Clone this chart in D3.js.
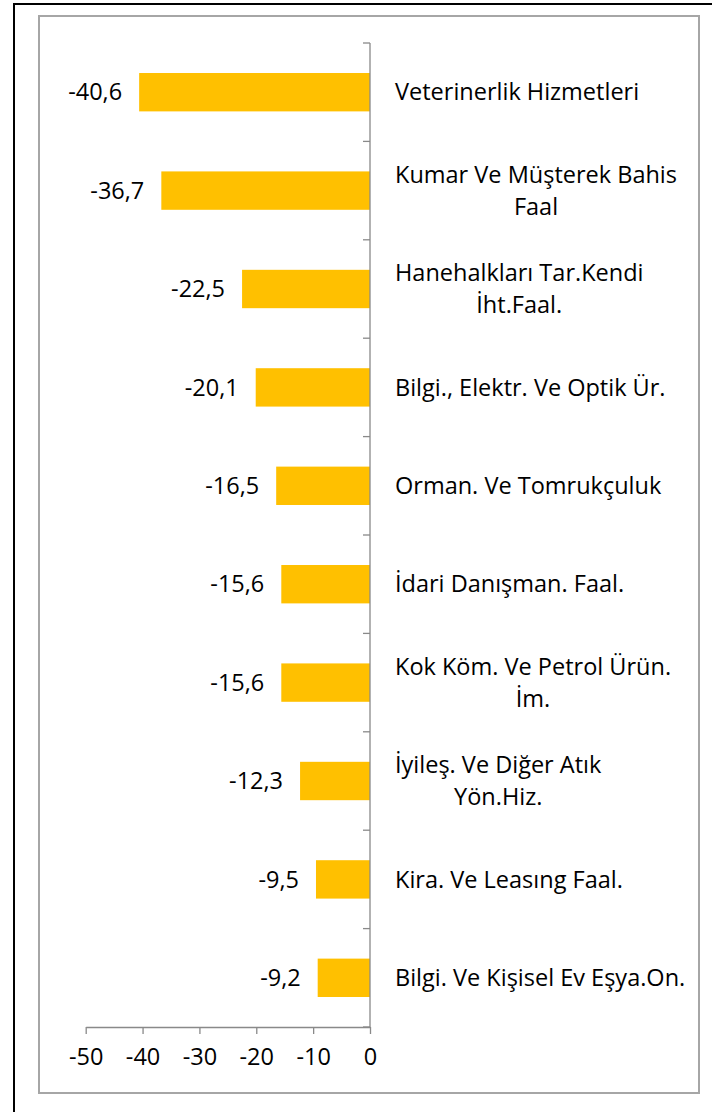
<!DOCTYPE html>
<html>
<head>
<meta charset="utf-8">
<script src="https://cdn.jsdelivr.net/npm/d3@7"></script>
<style>
  body { margin: 0; background: #fff; }
  text { font-family: "Open Sans", sans-serif; fill: #000; }
</style>
</head>
<body>
<div id="plotDiv"></div>
<script>
// --- Data ---
const categories = [
  ["Veterinerlik Hizmetleri"],
  ["Kumar Ve Müşterek Bahis", "Faal"],
  ["Hanehalkları Tar.Kendi", "İht.Faal."],
  ["Bilgi., Elektr. Ve Optik Ür."],
  ["Orman. Ve Tomrukçuluk"],
  ["İdari Danışman. Faal."],
  ["Kok Köm. Ve Petrol Ürün.", "İm."],
  ["İyileş. Ve Diğer Atık", "Yön.Hiz."],
  ["Kira. Ve Leasıng Faal."],
  ["Bilgi. Ve Kişisel Ev Eşya.On."]
];
const values = [-40.6, -36.7, -22.5, -20.1, -16.5, -15.6, -15.6, -12.3, -9.5, -9.2];
const xTicks = [-50, -40, -30, -20, -10, 0];

const data = categories.map((c, i) => ({id: i, lines: c, value: values[i]}));

const fontSize = 23.5;

// --- SVG Setup ---
const width = 712, height = 1112;
const svg = d3.select("#plotDiv")
  .append("svg")
  .attr("width", width)
  .attr("height", height);

// outer black frame (clipped by page) and inner gray chart frame
svg.append("rect")
  .attr("x", 14).attr("y", 4)
  .attr("width", 720).attr("height", 1130)
  .attr("fill", "none").attr("stroke", "#000").attr("stroke-width", 2);
svg.append("rect")
  .attr("x", 39).attr("y", 16)
  .attr("width", 660).attr("height", 1077)
  .attr("fill", "none").attr("stroke", "#a6a6a6").attr("stroke-width", 2);

// --- Scales ---
const x = d3.scaleLinear().domain([-50, 0]).range([85.7, 370]);
const y = d3.scaleBand()
  .domain(data.map(d => d.id))
  .range([43, 1027])
  .paddingInner(0.61)
  .paddingOuter(0.305);

const axisColor = "#898989";

// --- Bars ---
svg.append("g").selectAll("rect")
  .data(data)
  .join("rect")
  .attr("x", d => x(d.value))
  .attr("y", d => y(d.id))
  .attr("width", d => x(0) - x(d.value))
  .attr("height", y.bandwidth())
  .attr("fill", "#FFC000");

// --- X axis ---
const xAxis = svg.append("g")
  .attr("transform", `translate(0, 1027)`)
  .call(d3.axisBottom(x).tickValues(xTicks).tickSize(7).tickSizeOuter(0).tickPadding(14)
    .tickFormat(d => d3.format("d")(d).replace("−", "-")));
xAxis.select(".domain").attr("stroke", axisColor).attr("stroke-width", 1.3);
xAxis.selectAll(".tick line").attr("stroke", axisColor).attr("stroke-width", 1.3);
xAxis.selectAll(".tick text")
  .attr("font-size", fontSize)
  .attr("font-family", "Open Sans, sans-serif")
  .attr("fill", "#000");

// --- Y axis (vertical line at zero with category boundary ticks) ---
const step = y.step();
const boundaries = d3.range(data.length + 1).map(i => 43 + i * step);
const yAxis = svg.append("g");
yAxis.append("line")
  .attr("x1", x(0)).attr("x2", x(0))
  .attr("y1", 43).attr("y2", 1027)
  .attr("stroke", axisColor).attr("stroke-width", 1.3);
yAxis.selectAll(".btick")
  .data(boundaries)
  .join("line")
  .attr("class", "btick")
  .attr("x1", x(0) - 7).attr("x2", x(0))
  .attr("y1", d => d).attr("y2", d => d)
  .attr("stroke", axisColor).attr("stroke-width", 1.3);

// --- Value labels ---
svg.append("g").selectAll("text")
  .data(data)
  .join("text")
  .attr("x", d => x(d.value) - 17)
  .attr("y", d => y(d.id) + y.bandwidth() / 2)
  .attr("dy", "0.35em")
  .attr("text-anchor", "end")
  .attr("font-size", fontSize)
  .text(d => d3.format(".1f")(d.value).replace(".", ",").replace("−", "-"));

// --- Category labels ---
const lineGap = 32;
const labelX = 395;
const catGroup = svg.append("g");
data.forEach(d => {
  const cy = y(d.id) + y.bandwidth() / 2;
  const n = d.lines.length;
  const first = catGroup.append("text")
    .attr("x", labelX)
    .attr("y", cy - (n - 1) * lineGap / 2)
    .attr("dy", "0.35em")
    .attr("font-size", fontSize)
    .text(d.lines[0]);
  if (n > 1) {
    const w = first.node().getComputedTextLength();
    catGroup.append("text")
      .attr("x", labelX + w / 2)
      .attr("y", cy + lineGap / 2)
      .attr("dy", "0.35em")
      .attr("text-anchor", "middle")
      .attr("font-size", fontSize)
      .text(d.lines[1]);
  }
});
</script>
</body>
</html>
